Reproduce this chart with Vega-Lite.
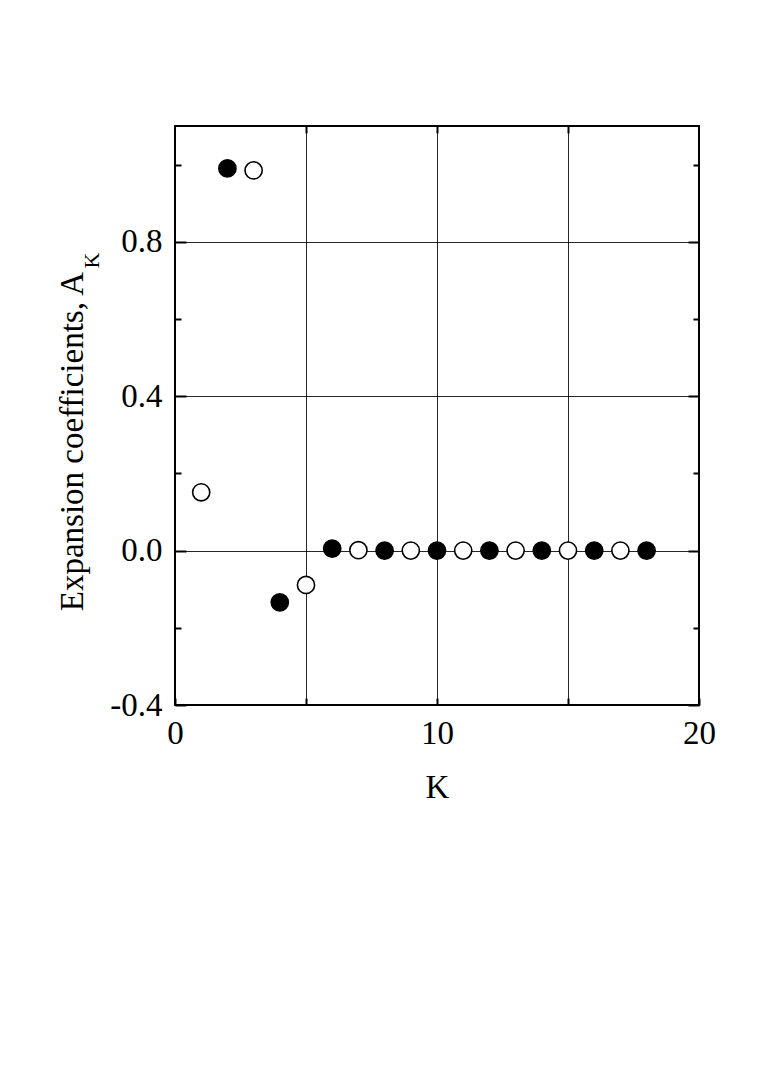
{
  "$schema": "https://vega.github.io/schema/vega-lite/v6.json",
  "width": 524,
  "height": 579,
  "autosize": {"type": "none"},
  "padding": {"left": 175, "top": 126, "right": 66, "bottom": 385},
  "background": "white",
  "config": {
    "view": {"stroke": "black", "strokeWidth": 2},
    "axis": {
      "labelFont": "Liberation Serif",
      "titleFont": "Liberation Serif",
      "labelColor": "black",
      "titleColor": "black",
      "titleFontWeight": "normal",
      "labelFontSize": 33,
      "titleFontSize": 33,
      "labelFlush": false,
      "labelOverlap": false,
      "domain": false,
      "tickColor": "black",
      "tickWidth": 2,
      "gridColor": "black",
      "gridWidth": 1,
      "gridOpacity": 0.85
    }
  },
  "data": {
    "values": [
      {"K": 1, "A": 0.151, "type": "open"},
      {"K": 2, "A": 0.990, "type": "filled"},
      {"K": 3, "A": 0.985, "type": "open"},
      {"K": 4, "A": -0.134, "type": "filled"},
      {"K": 5, "A": -0.089, "type": "open"},
      {"K": 6, "A": 0.005, "type": "filled"},
      {"K": 7, "A": 0.001, "type": "open"},
      {"K": 8, "A": 0.0, "type": "filled"},
      {"K": 9, "A": 0.0, "type": "open"},
      {"K": 10, "A": 0.0, "type": "filled"},
      {"K": 11, "A": 0.0, "type": "open"},
      {"K": 12, "A": 0.0, "type": "filled"},
      {"K": 13, "A": 0.0, "type": "open"},
      {"K": 14, "A": 0.0, "type": "filled"},
      {"K": 15, "A": 0.0, "type": "open"},
      {"K": 16, "A": 0.0, "type": "filled"},
      {"K": 17, "A": 0.0, "type": "open"},
      {"K": 18, "A": 0.0, "type": "filled"}
    ]
  },
  "resolve": {"axis": {"x": "independent", "y": "independent"}},
  "layer": [
    {
      "mark": {"type": "point", "filled": true, "size": 295, "stroke": "black", "strokeWidth": 1.6, "opacity": 1, "shape": "circle"},
      "encoding": {
        "x": {
          "field": "K", "type": "quantitative",
          "scale": {"domain": [0, 20], "nice": false, "zero": false},
          "axis": {
            "orient": "bottom",
            "values": [0, 5, 10, 15, 20],
            "labelExpr": "datum.value % 10 === 0 ? datum.label : ''",
            "grid": true,
            "tickSize": -7,
            "labelPadding": 45,
            "labelBaseline": "alphabetic",
            "title": "K",
            "titleBaseline": "alphabetic",
            "titleY": 92
          }
        },
        "y": {
          "field": "A", "type": "quantitative",
          "scale": {"domain": [-0.4, 1.1], "nice": false, "zero": false},
          "axis": {
            "orient": "left",
            "values": [-0.4, 0, 0.4, 0.8],
            "labelExpr": "datum.value < 0 ? '-' + format(-datum.value, '.1f') : format(datum.value, '.1f')",
            "grid": true,
            "tickSize": -11,
            "labelPadding": 24,
            "title": "Expansion coefficients, A",
            "titleBaseline": "alphabetic",
            "titleAlign": "center",
            "titleX": -93,
            "titleY": 315
          }
        },
        "fill": {
          "field": "type", "type": "nominal",
          "scale": {"domain": ["filled", "open"], "range": ["black", "white"]},
          "legend": null
        }
      }
    },
    {
      "mark": {"type": "point", "opacity": 0},
      "encoding": {
        "x": {
          "field": "K", "type": "quantitative",
          "axis": {"orient": "top", "values": [5, 10, 15], "labels": false, "grid": false, "tickSize": -7, "title": null}
        },
        "y": {
          "field": "A", "type": "quantitative",
          "axis": {"orient": "right", "values": [-0.4, 0, 0.4, 0.8], "labels": false, "grid": false, "tickSize": -11, "title": null}
        }
      }
    },
    {
      "mark": {"type": "point", "opacity": 0},
      "encoding": {
        "x": {"field": "K", "type": "quantitative", "axis": null},
        "y": {
          "field": "A", "type": "quantitative",
          "axis": {
            "orient": "left", "values": [-0.2, 0.2, 0.6, 1.0], "labels": false, "grid": false, "tickSize": -6,
            "title": "K", "titleFontSize": 22, "titleBaseline": "alphabetic", "titleAlign": "center",
            "titleX": -77, "titleY": 134
          }
        }
      }
    },
    {
      "mark": {"type": "point", "opacity": 0},
      "encoding": {
        "x": {"field": "K", "type": "quantitative", "axis": null},
        "y": {
          "field": "A", "type": "quantitative",
          "axis": {"orient": "right", "values": [-0.2, 0.2, 0.6, 1.0], "labels": false, "grid": false, "tickSize": -6, "title": null}
        }
      }
    }
  ]
}
